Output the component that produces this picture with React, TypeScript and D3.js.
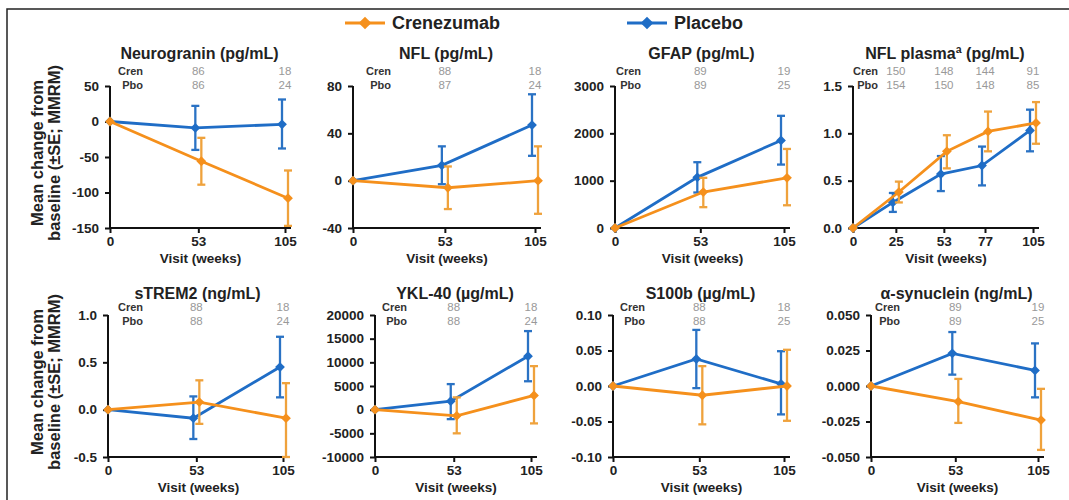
import React, { useEffect, useRef } from "react";
import * as d3 from "d3";

// ---------- DATA ----------
const weeks3 = [0, 53, 105];
const weeks5 = [0, 25, 53, 77, 105];
const xTicks3 = [0, 53, 105];
const xTicks5 = [0, 25, 53, 77, 105];

const seriesNames = ["Crenezumab", "Placebo"];
const nRowLabels = ["Cren", "Pbo"];

// Neurogranin (pg/mL)
const ngCren = [0, -56, -108];
const ngCrenLo = [0, -89, -147];
const ngCrenHi = [0, -23, -69];
const ngPbo = [0, -9, -4];
const ngPboLo = [0, -40, -38];
const ngPboHi = [0, 22, 31];
const ngNCren = [86, 18];
const ngNPbo = [86, 24];
const ngTicks = [50, 0, -50, -100, -150];

// NFL (pg/mL)
const nflCren = [0, -6, 0];
const nflCrenLo = [0, -24, -28];
const nflCrenHi = [0, 12, 29];
const nflPbo = [0, 13, 47];
const nflPboLo = [0, -3, 21];
const nflPboHi = [0, 29, 73];
const nflNCren = [88, 18];
const nflNPbo = [87, 24];
const nflTicks = [80, 40, 0, -40];

// GFAP (pg/mL)
const gfapCren = [0, 760, 1060];
const gfapCrenLo = [0, 440, 480];
const gfapCrenHi = [0, 1060, 1670];
const gfapPbo = [0, 1070, 1850];
const gfapPboLo = [0, 750, 1340];
const gfapPboHi = [0, 1390, 2370];
const gfapNCren = [89, 19];
const gfapNPbo = [89, 25];
const gfapTicks = [3000, 2000, 1000, 0];

// NFL plasma (pg/mL)
const nflpCren = [0, 0.38, 0.81, 1.02, 1.11];
const nflpCrenLo = [0, 0.27, 0.63, 0.81, 0.89];
const nflpCrenHi = [0, 0.49, 0.98, 1.23, 1.33];
const nflpPbo = [0, 0.27, 0.57, 0.66, 1.03];
const nflpPboLo = [0, 0.17, 0.39, 0.45, 0.81];
const nflpPboHi = [0, 0.37, 0.76, 0.86, 1.25];
const nflpNCren = [150, 148, 144, 91];
const nflpNPbo = [154, 150, 148, 85];
const nflpTicks = [1.5, 1.0, 0.5, 0.0];

// sTREM2 (ng/mL)
const stCren = [0, 0.08, -0.09];
const stCrenLo = [0, -0.15, -0.5];
const stCrenHi = [0, 0.31, 0.28];
const stPbo = [0, -0.09, 0.45];
const stPboLo = [0, -0.31, 0.13];
const stPboHi = [0, 0.14, 0.77];
const stNCren = [88, 18];
const stNPbo = [88, 24];
const stTicks = [1.0, 0.5, 0.0, -0.5];

// YKL-40 (µg/mL)
const yklCren = [0, -1300, 3000];
const yklCrenLo = [0, -5000, -2900];
const yklCrenHi = [0, 2600, 9200];
const yklPbo = [0, 1800, 11300];
const yklPboLo = [0, -2000, 6000];
const yklPboHi = [0, 5400, 16600];
const yklNCren = [88, 18];
const yklNPbo = [88, 24];
const yklTicks = [20000, 15000, 10000, 5000, 0, -5000, -10000];

// S100b (µg/mL)
const sCren = [0, -0.013, 0];
const sCrenLo = [0, -0.054, -0.049];
const sCrenHi = [0, 0.028, 0.051];
const sPbo = [0, 0.038, 0.003];
const sPboLo = [0, -0.003, -0.04];
const sPboHi = [0, 0.079, 0.049];
const sNCren = [88, 18];
const sNPbo = [88, 25];
const sTicks = [0.1, 0.05, 0.0, -0.05, -0.1];

// α-synuclein (ng/mL)
const asCren = [0, -0.011, -0.024];
const asCrenLo = [0, -0.026, -0.045];
const asCrenHi = [0, 0.005, -0.002];
const asPbo = [0, 0.023, 0.011];
const asPboLo = [0, 0.008, -0.008];
const asPboHi = [0, 0.038, 0.03];
const asNCren = [89, 19];
const asNPbo = [89, 25];
const asTicks = [0.05, 0.025, 0.0, -0.025, -0.05];

const panels = [
  { title: "Neurogranin (pg/mL)", weeks: weeks3, xTicks: xTicks3, nWeeks: [53, 105], cren: ngCren, crenLo: ngCrenLo, crenHi: ngCrenHi, pbo: ngPbo, pboLo: ngPboLo, pboHi: ngPboHi, nCren: ngNCren, nPbo: ngNPbo, yTicks: ngTicks, fmt: "d" },
  { title: "NFL (pg/mL)", weeks: weeks3, xTicks: xTicks3, nWeeks: [53, 105], cren: nflCren, crenLo: nflCrenLo, crenHi: nflCrenHi, pbo: nflPbo, pboLo: nflPboLo, pboHi: nflPboHi, nCren: nflNCren, nPbo: nflNPbo, yTicks: nflTicks, fmt: "d" },
  { title: "GFAP (pg/mL)", weeks: weeks3, xTicks: xTicks3, nWeeks: [53, 105], cren: gfapCren, crenLo: gfapCrenLo, crenHi: gfapCrenHi, pbo: gfapPbo, pboLo: gfapPboLo, pboHi: gfapPboHi, nCren: gfapNCren, nPbo: gfapNPbo, yTicks: gfapTicks, fmt: "d" },
  { title: "NFL plasma\u00aa (pg/mL)", weeks: weeks5, xTicks: xTicks5, nWeeks: [25, 53, 77, 105], cren: nflpCren, crenLo: nflpCrenLo, crenHi: nflpCrenHi, pbo: nflpPbo, pboLo: nflpPboLo, pboHi: nflpPboHi, nCren: nflpNCren, nPbo: nflpNPbo, yTicks: nflpTicks, fmt: ".1f" },
  { title: "sTREM2 (ng/mL)", weeks: weeks3, xTicks: xTicks3, nWeeks: [53, 105], cren: stCren, crenLo: stCrenLo, crenHi: stCrenHi, pbo: stPbo, pboLo: stPboLo, pboHi: stPboHi, nCren: stNCren, nPbo: stNPbo, yTicks: stTicks, fmt: ".1f" },
  { title: "YKL-40 (\u00b5g/mL)", weeks: weeks3, xTicks: xTicks3, nWeeks: [53, 105], cren: yklCren, crenLo: yklCrenLo, crenHi: yklCrenHi, pbo: yklPbo, pboLo: yklPboLo, pboHi: yklPboHi, nCren: yklNCren, nPbo: yklNPbo, yTicks: yklTicks, fmt: "d" },
  { title: "S100b (\u00b5g/mL)", weeks: weeks3, xTicks: xTicks3, nWeeks: [53, 105], cren: sCren, crenLo: sCrenLo, crenHi: sCrenHi, pbo: sPbo, pboLo: sPboLo, pboHi: sPboHi, nCren: sNCren, nPbo: sNPbo, yTicks: sTicks, fmt: ".2f" },
  { title: "\u03b1-synuclein (ng/mL)", weeks: weeks3, xTicks: xTicks3, nWeeks: [53, 105], cren: asCren, crenLo: asCrenLo, crenHi: asCrenHi, pbo: asPbo, pboLo: asPboLo, pboHi: asPboHi, nCren: asNCren, nPbo: asNPbo, yTicks: asTicks, fmt: ".3f" },
];

// ---------- LAYOUT ----------
const W = 1069;
const H = 500;
const FONT = "'Liberation Sans', Arial, Helvetica, sans-serif";
const ORANGE = "#F5901C";
const ORANGE_ERR = "#EFA23C";
const BLUE = "#1F6DC6";
const BLUE_ERR = "#2A72C4";

const layout = [
  { x0: 110, x1: 285, row: 0, lab: 33 },
  { x0: 353, x1: 535, row: 0, lab: 38 },
  { x0: 615, x1: 784, row: 0, lab: 26 },
  { x0: 853, x1: 1033, row: 0, lab: 25 },
  { x0: 108, x1: 283, row: 1, lab: 35 },
  { x0: 375, x1: 531, row: 1, lab: 32 },
  { x0: 613, x1: 784, row: 1, lab: 32 },
  { x0: 871, x1: 1038, row: 1, lab: 29 },
];
const rows = [
  { top: 86, bottom: 228, title: 53, cren: 71, pbo: 85 },
  { top: 315, bottom: 457, title: 293, cren: 307, pbo: 321 },
];

const locale = d3.formatLocale({ decimal: ".", thousands: "", grouping: [3], currency: ["", ""], minus: "-" });

export default function App() {
  const ref = useRef<SVGSVGElement | null>(null);

  useEffect(() => {
    const svg = d3.select(ref.current);
    svg.selectAll("*").remove();

    // frame
    svg.append("rect").attr("x", 7).attr("y", 9).attr("width", 1200).attr("height", 700)
      .attr("fill", "none").attr("stroke", "#222").attr("stroke-width", 1.5);

    const diamond = d3.symbol().type(d3.symbolSquare);

    // legend
    const legend = [
      { name: seriesNames[0], color: ORANGE, x: 345 },
      { name: seriesNames[1], color: BLUE, x: 627 },
    ];
    legend.forEach((l) => {
      const g = svg.append("g");
      g.append("line").attr("x1", l.x).attr("x2", l.x + 40).attr("y1", 23).attr("y2", 23)
        .attr("stroke", l.color).attr("stroke-width", 3);
      g.append("path").attr("d", diamond.size(80)()).attr("fill", l.color)
        .attr("transform", `translate(${l.x + 20},23) rotate(45)`);
      g.append("text").attr("x", l.x + 47).attr("y", 23).attr("dy", "0.35em")
        .attr("font-family", FONT).attr("font-weight", "bold").attr("font-size", 18)
        .attr("fill", "#222").text(l.name);
    });

    // y axis titles
    rows.forEach((r) => {
      const cy = (r.top + r.bottom) / 2 - 4;
      [["Mean change from", 37], ["baseline (\u00b1SE; MMRM)", 54]].forEach(([t, x]) => {
        svg.append("text").attr("transform", `translate(${x},${cy}) rotate(-90)`)
          .attr("text-anchor", "middle").attr("dy", "0.35em")
          .attr("font-family", FONT).attr("font-weight", "bold").attr("font-size", 16.5)
          .attr("fill", "#222").text(t as string);
      });
    });

    panels.forEach((p, i) => {
      const L = layout[i];
      const R = rows[L.row];
      const g = svg.append("g");
      const x = d3.scaleLinear().domain([0, 105]).range([L.x0, L.x1]);
      const yMin = d3.min(p.yTicks) as number;
      const yMax = d3.max(p.yTicks) as number;
      const y = d3.scaleLinear().domain([yMin, yMax]).range([R.bottom, R.top]);
      const fmt = locale.format(p.fmt);

      // title
      g.append("text").attr("x", (L.x0 + L.x1) / 2 + 2).attr("y", R.title).attr("dy", "0.35em")
        .attr("text-anchor", "middle").attr("font-family", FONT).attr("font-weight", "bold")
        .attr("font-size", 16).attr("fill", "#222").text(p.title);

      // N rows
      [[nRowLabels[0], R.cren, p.nCren], [nRowLabels[1], R.pbo, p.nPbo]].forEach(([lab, yy, vals]) => {
        g.append("text").attr("x", L.x0 + L.lab).attr("y", yy as number).attr("dy", "0.35em")
          .attr("text-anchor", "end").attr("font-family", FONT).attr("font-weight", "bold")
          .attr("font-size", 11).attr("fill", "#333").text(lab as string);
        (vals as number[]).forEach((v, k) => {
          g.append("text").attr("x", x(p.nWeeks[k])).attr("y", yy as number).attr("dy", "0.35em")
            .attr("text-anchor", "middle").attr("font-family", FONT)
            .attr("font-size", 11.5).attr("fill", "#999").text(v);
        });
      });

      // axes
      const yAxis = d3.axisLeft(y).tickValues(p.yTicks).tickSize(5).tickPadding(6).tickFormat((d) => fmt(d as number));
      const yG = g.append("g").attr("transform", `translate(${L.x0},0)`).call(yAxis);
      yG.select(".domain").remove();
      g.append("line").attr("x1", L.x0).attr("x2", L.x0).attr("y1", R.top).attr("y2", R.bottom + 1)
        .attr("stroke", "#111").attr("stroke-width", 2);
      const xAxis = d3.axisBottom(x).tickValues(p.xTicks).tickSize(5).tickPadding(3).tickFormat((d) => String(d));
      const xG = g.append("g").attr("transform", `translate(0,${R.bottom})`).call(xAxis);
      xG.select(".domain").remove();
      g.append("line").attr("x1", L.x0 - 1).attr("x2", L.x1 + 6).attr("y1", R.bottom).attr("y2", R.bottom)
        .attr("stroke", "#111").attr("stroke-width", 2);
      [yG, xG].forEach((ax) => {
        ax.selectAll(".tick line").attr("stroke", "#111").attr("stroke-width", 2);
        ax.selectAll(".tick text").attr("font-family", FONT).attr("font-weight", "bold")
          .attr("font-size", 13.5).attr("fill", "#222");
      });

      g.append("text").attr("x", (L.x0 + L.x1) / 2 + 3).attr("y", R.bottom + 30).attr("dy", "0.35em")
        .attr("text-anchor", "middle").attr("font-family", FONT).attr("font-weight", "bold")
        .attr("font-size", 13.5).attr("fill", "#222").text("Visit (weeks)");

      // series
      const series = [
        { v: p.pbo, lo: p.pboLo, hi: p.pboHi, color: BLUE, err: BLUE_ERR, off: -3 },
        { v: p.cren, lo: p.crenLo, hi: p.crenHi, color: ORANGE, err: ORANGE_ERR, off: 3 },
      ];
      series.forEach((s) => {
        const px = (k: number) => x(p.weeks[k]) + (p.weeks[k] > 0 ? s.off : 0);
        // error bars
        p.weeks.forEach((wk, k) => {
          if (wk === 0) return;
          const cx = px(k);
          const eg = g.append("g").attr("stroke", s.err).attr("stroke-width", 2.3);
          eg.append("line").attr("x1", cx).attr("x2", cx).attr("y1", y(s.lo[k])).attr("y2", y(s.hi[k]));
          eg.append("line").attr("x1", cx - 4).attr("x2", cx + 4).attr("y1", y(s.lo[k])).attr("y2", y(s.lo[k]));
          eg.append("line").attr("x1", cx - 4).attr("x2", cx + 4).attr("y1", y(s.hi[k])).attr("y2", y(s.hi[k]));
        });
        const line = d3.line<number>().x((_, k) => px(k)).y((d) => y(d));
        g.append("path").attr("d", line(s.v) as string).attr("fill", "none")
          .attr("stroke", s.color).attr("stroke-width", 2.8);
        s.v.forEach((d, k) => {
          g.append("path").attr("d", diamond.size(48)()).attr("fill", s.color)
            .attr("transform", `translate(${px(k)},${y(d)}) rotate(45)`);
        });
      });
    });
  }, []);

  return (
    <svg ref={ref} width={W} height={H} style={{ position: "absolute", left: 0, top: 0, background: "#fff" }} />
  );
}
